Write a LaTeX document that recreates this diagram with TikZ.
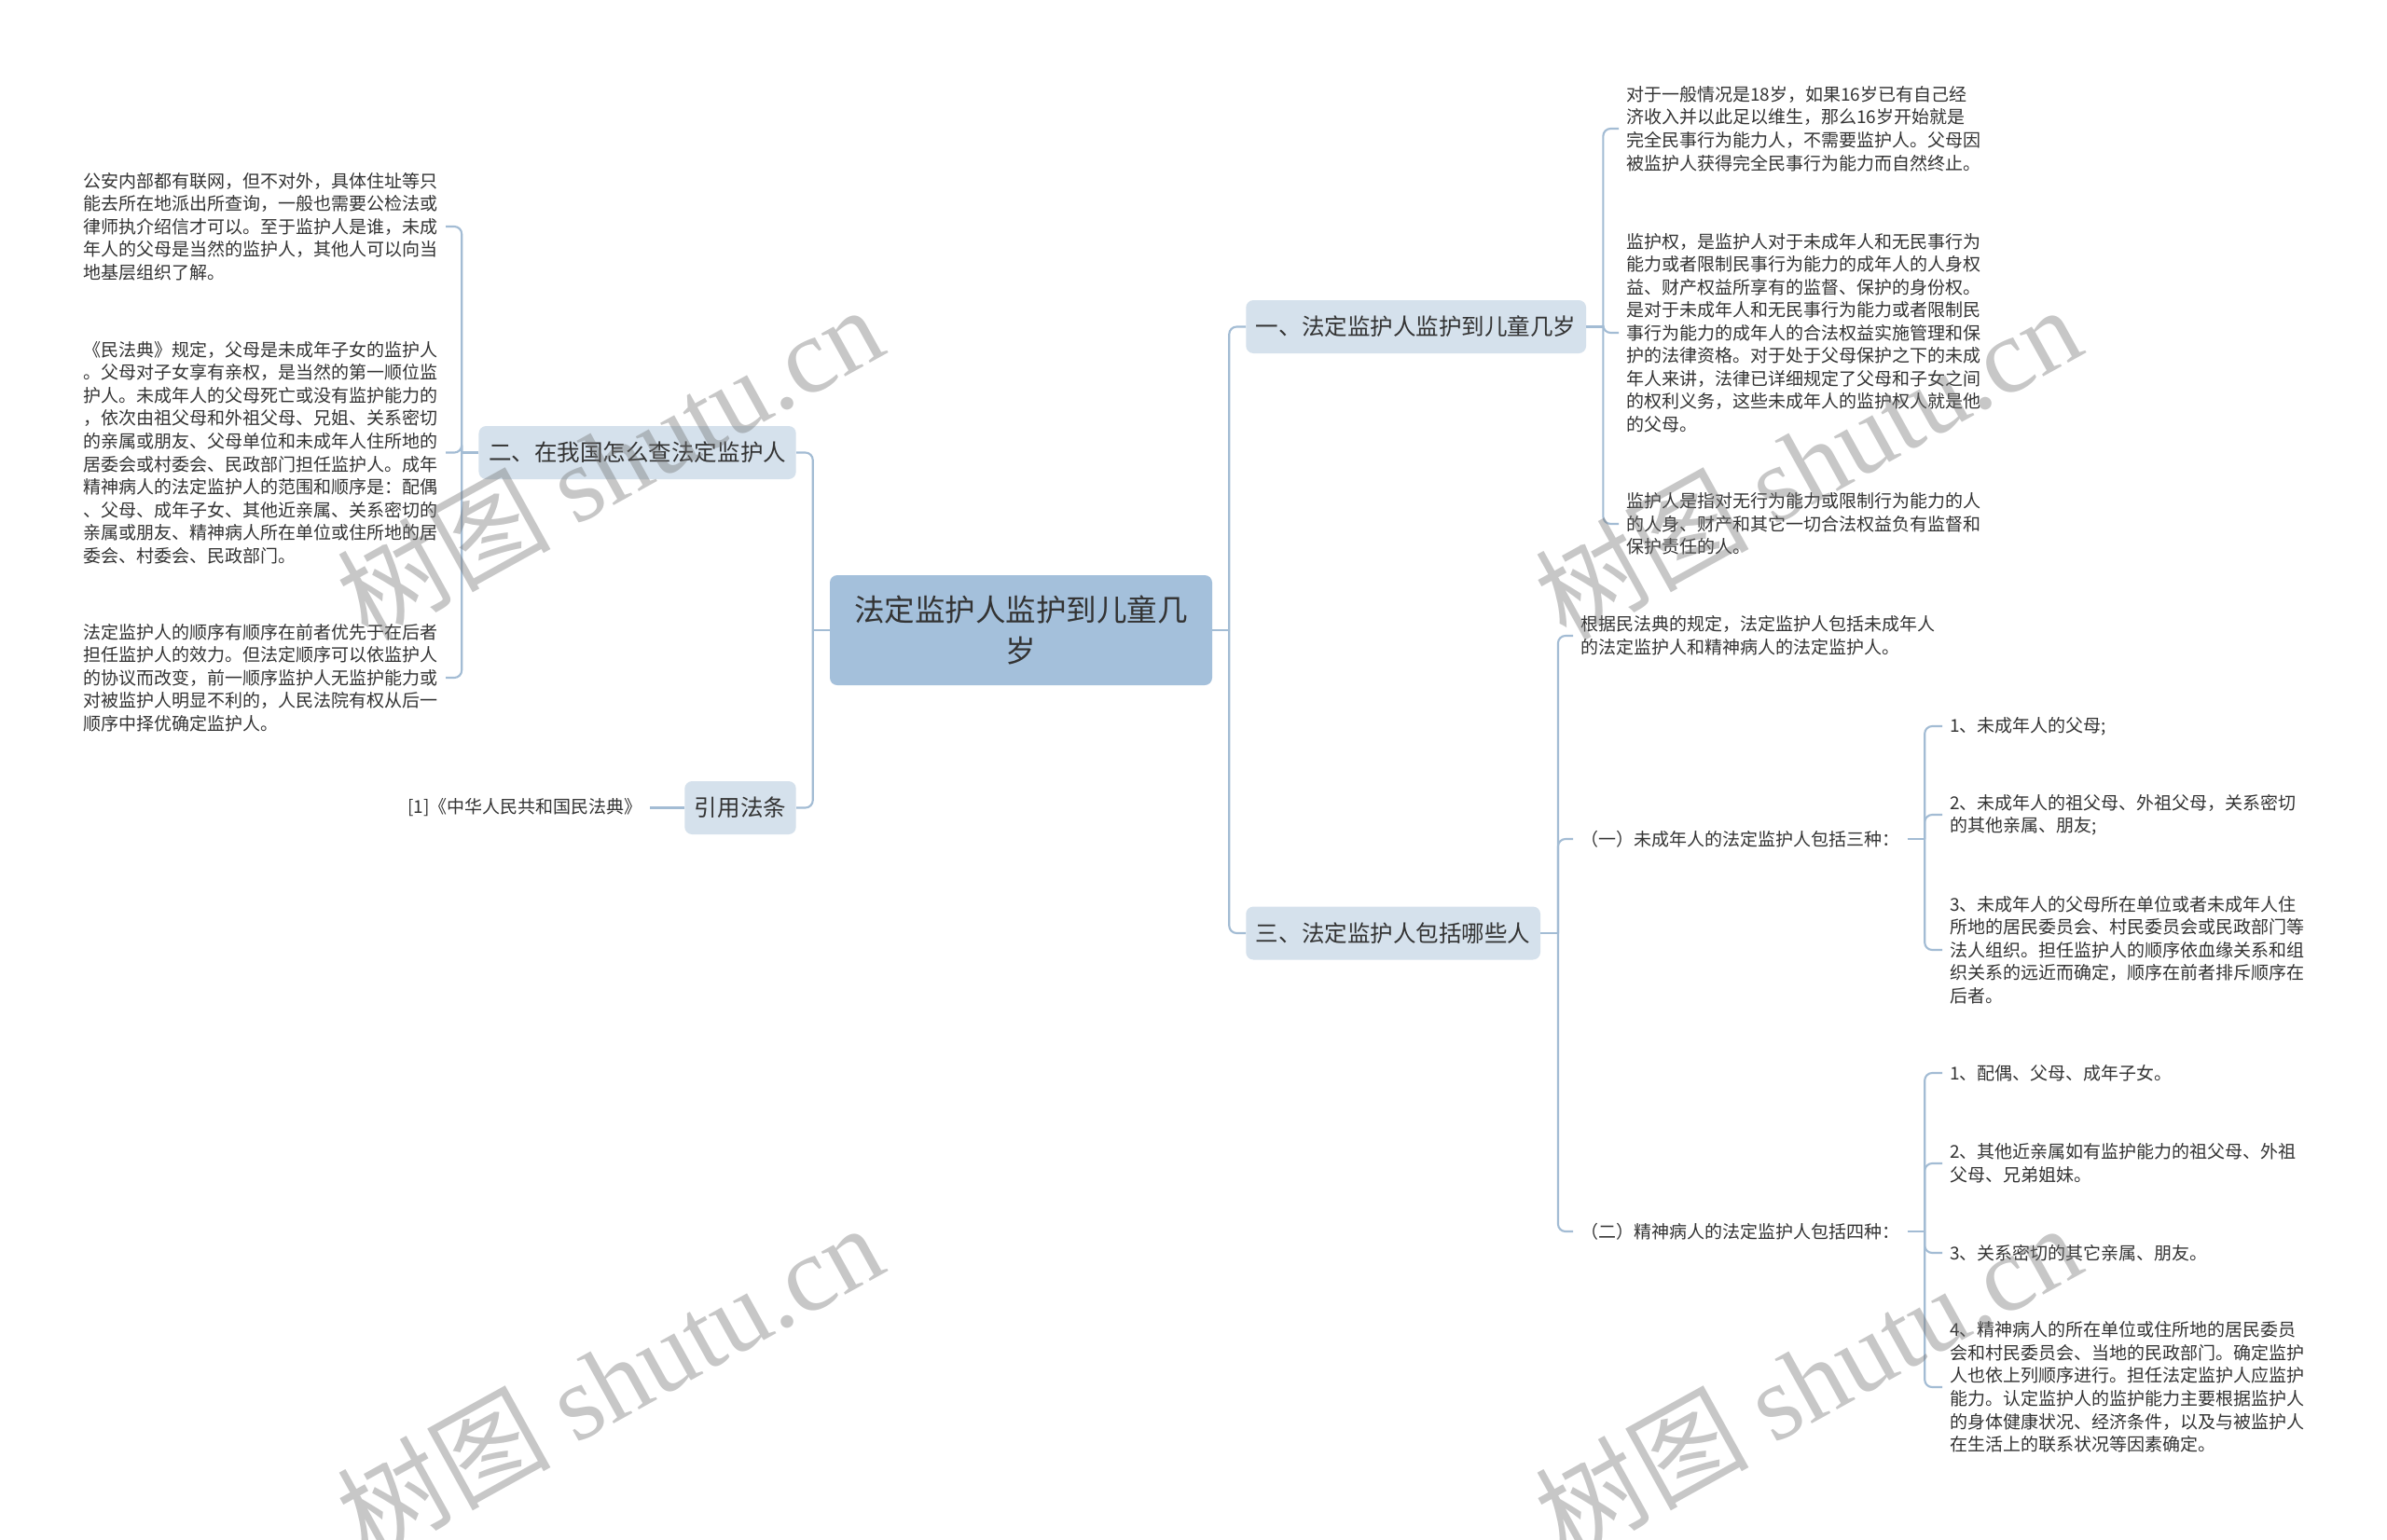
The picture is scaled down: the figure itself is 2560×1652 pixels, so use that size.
\documentclass[tikz,border=0pt]{standalone}
\usepackage{fontspec}
\setmainfont{Noto Sans CJK SC}
\newfontfamily\wmserif{Liberation Serif}
\definecolor{rfill}{HTML}{A4C0DB}
\definecolor{bfill}{HTML}{D5E1EC}
\definecolor{lcol}{HTML}{A3BCD4}
\definecolor{txt}{HTML}{333333}
\tikzset{
  leaf/.style={font=\fontsize{14.25}{18.4}\selectfont, text=txt, align=left, inner xsep=6pt, inner ysep=2pt},
  leafw/.style={leaf, text width=285pt},
  branch/.style={fill=bfill, rounded corners=6pt, font=\fontsize{18.4}{22}\selectfont, text=txt, inner xsep=8pt, minimum height=42.75pt},
  rootbox/.style={fill=rfill, rounded corners=6pt, font=\fontsize{24.4}{33}\selectfont, text=txt, align=center, minimum width=307.5pt, minimum height=88.5pt},
  conn/.style={draw=lcol, line width=1.6pt, rounded corners=6pt},
  wm/.style={text=black!55, text opacity=0.4, font=\fontsize{86}{90}\selectfont, rotate=29, inner sep=0pt}
}
\begin{document}
\begin{tikzpicture}[x=0.75pt,y=-0.75pt]
\fill[white] (0,0) rectangle (2560,1652);
\useasboundingbox (0,0) rectangle (2560,1652);

% root and branches
\node[rootbox] (root) at (1095,676) {法定监护人监护到儿童几\\岁};
\node[branch, anchor=west] (b1) at (1336,350.5) {一、法定监护人监护到儿童几岁};
\node[branch, anchor=west] (b3) at (1336,1001) {三、法定监护人包括哪些人};
\node[branch, anchor=east] (b2) at (854,485.5) {二、在我国怎么查法定监护人};
\node[branch, anchor=east] (b4) at (854,866.5) {引用法条};

% left leaves
\node[leafw, anchor=east] (L1) at (478,243) {公安内部都有联网，但不对外，具体住址等只\\能去所在地派出所查询，一般也需要公检法或\\律师执介绍信才可以。至于监护人是谁，未成\\年人的父母是当然的监护人，其他人可以向当\\地基层组织了解。};
\node[leafw, anchor=east] (L2) at (478,485.5) {《民法典》规定，父母是未成年子女的监护人\\。父母对子女享有亲权，是当然的第一顺位监\\护人。未成年人的父母死亡或没有监护能力的\\，依次由祖父母和外祖父母、兄姐、关系密切\\的亲属或朋友、父母单位和未成年人住所地的\\居委会或村委会、民政部门担任监护人。成年\\精神病人的法定监护人的范围和顺序是：配偶\\、父母、成年子女、其他近亲属、关系密切的\\亲属或朋友、精神病人所在单位或住所地的居\\委会、村委会、民政部门。};
\node[leafw, anchor=east] (L3) at (478,727) {法定监护人的顺序有顺序在前者优先于在后者\\担任监护人的效力。但法定顺序可以依监护人\\的协议而改变，前一顺序监护人无监护能力或\\对被监护人明显不利的，人民法院有权从后一\\顺序中择优确定监护人。};
\node[leaf, anchor=east] (cite) at (697,866.5) {[1]《中华人民共和国民法典》};

% right leaves of branch 1
\node[leaf, anchor=west] (R1) at (1736,138) {对于一般情况是18岁，如果16岁已有自己经\\济收入并以此足以维生，那么16岁开始就是\\完全民事行为能力人，不需要监护人。父母因\\被监护人获得完全民事行为能力而自然终止。};
\node[leaf, anchor=west] (R2) at (1736,357) {监护权，是监护人对于未成年人和无民事行为\\能力或者限制民事行为能力的成年人的人身权\\益、财产权益所享有的监督、保护的身份权。\\是对于未成年人和无民事行为能力或者限制民\\事行为能力的成年人的合法权益实施管理和保\\护的法律资格。对于处于父母保护之下的未成\\年人来讲，法律已详细规定了父母和子女之间\\的权利义务，这些未成年人的监护权人就是他\\的父母。};
\node[leaf, anchor=west] (R3) at (1736,562) {监护人是指对无行为能力或限制行为能力的人\\的人身、财产和其它一切合法权益负有监督和\\保护责任的人。};

% children of branch 3
\node[leaf, anchor=west] (T1) at (1687,682) {根据民法典的规定，法定监护人包括未成年人\\的法定监护人和精神病人的法定监护人。};
\node[leaf, anchor=west] (T2) at (1687,900) {（一）未成年人的法定监护人包括三种：};
\node[leaf, anchor=west] (T3) at (1687,1321) {（二）精神病人的法定监护人包括四种：};

\node[leaf, anchor=west] (U1) at (2083,779) {1、未成年人的父母;};
\node[leaf, anchor=west] (U2) at (2083,874) {2、未成年人的祖父母、外祖父母，关系密切\\的其他亲属、朋友;};
\node[leaf, anchor=west] (U3) at (2083,1019) {3、未成年人的父母所在单位或者未成年人住\\所地的居民委员会、村民委员会或民政部门等\\法人组织。担任监护人的顺序依血缘关系和组\\织关系的远近而确定，顺序在前者排斥顺序在\\后者。};

\node[leaf, anchor=west] (V1) at (2083,1151) {1、配偶、父母、成年子女。};
\node[leaf, anchor=west] (V2) at (2083,1248) {2、其他近亲属如有监护能力的祖父母、外祖\\父母、兄弟姐妹。};
\node[leaf, anchor=west] (V3) at (2083,1344) {3、关系密切的其它亲属、朋友。};
\node[leaf, anchor=west] (V4) at (2083,1488) {4、精神病人的所在单位或住所地的居民委员\\会和村民委员会、当地的民政部门。确定监护\\人也依上列顺序进行。担任法定监护人应监护\\能力。认定监护人的监护能力主要根据监护人\\的身体健康状况、经济条件，以及与被监护人\\在生活上的联系状况等因素确定。};

% junction coordinates
\coordinate (jR) at ([xshift=13.5pt]root.east);
\coordinate (jL) at ([xshift=-13.5pt]root.west);
\coordinate (j1) at ([xshift=13.5pt]b1.east);
\coordinate (j2) at ([xshift=-13.5pt]b2.west);
\coordinate (j3) at ([xshift=14pt]b3.east);
\coordinate (jT2) at ([xshift=14pt]T2.east);
\coordinate (jT3) at ([xshift=14pt]T3.east);

% connectors
\draw[conn] (root.east) -- (jR);
\draw[conn] (jR) |- (b1.west);
\draw[conn] (jR) |- (b3.west);
\draw[conn] (root.west) -- (jL);
\draw[conn] (jL) |- (b2.east);
\draw[conn] (jL) |- (b4.east);

\draw[conn] (b2.west) -- (j2);
\draw[conn] (j2) |- (L1.east);
\draw[conn] (j2) |- (L2.east);
\draw[conn] (j2) |- (L3.east);
\draw[conn] (b4.west) -- (cite.east);

\draw[conn] (b1.east) -- (j1);
\draw[conn] (j1) |- (R1.west);
\draw[conn] (j1) |- (R2.west);
\draw[conn] (j1) |- (R3.west);

\draw[conn] (b3.east) -- (j3);
\draw[conn] (j3) |- (T1.west);
\draw[conn] (j3) |- (T2.west);
\draw[conn] (j3) |- (T3.west);

\draw[conn] (T2.east) -- (jT2);
\draw[conn] (jT2) |- (U1.west);
\draw[conn] (jT2) |- (U2.west);
\draw[conn] (jT2) |- (U3.west);

\draw[conn] (T3.east) -- (jT3);
\draw[conn] (jT3) |- (V1.west);
\draw[conn] (jT3) |- (V2.west);
\draw[conn] (jT3) |- (V3.west);
\draw[conn] (jT3) |- (V4.west);

% watermarks
\node[wm] (w1) at (653,495) {树图 {\wmserif shutu.cn}};
\node[wm] (w2) at (1938,495) {树图 {\wmserif shutu.cn}};
\node[wm] (w3) at (653,1480) {树图 {\wmserif shutu.cn}};
\node[wm] (w4) at (1938,1480) {树图 {\wmserif shutu.cn}};
\end{tikzpicture}
\end{document}
